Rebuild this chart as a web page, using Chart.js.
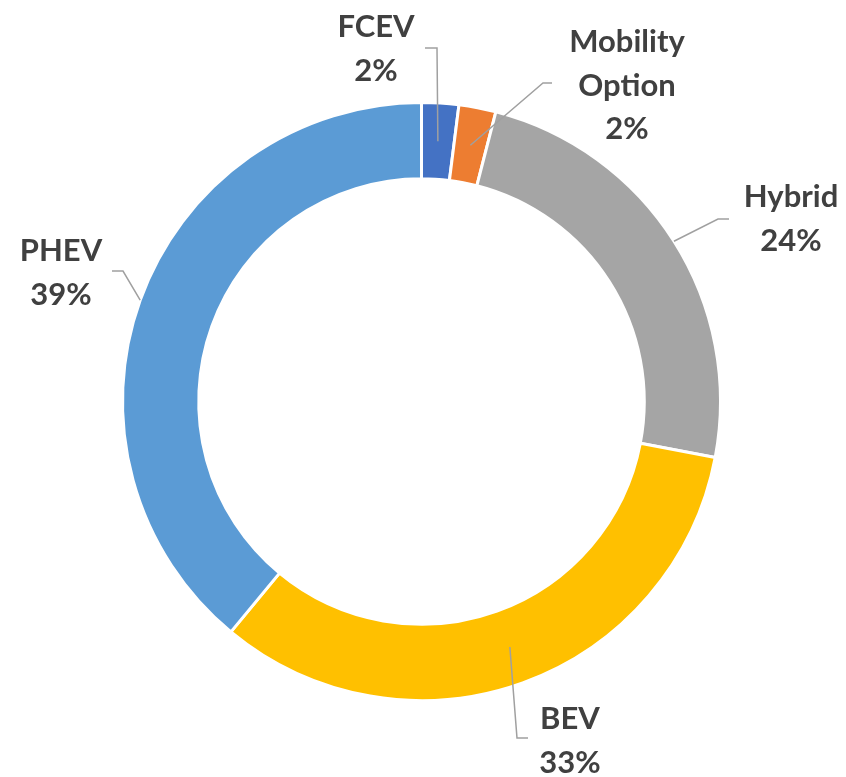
<!DOCTYPE html>
<html lang="en">
<head>
  <meta charset="UTF-8" />
  <title>Powertrain share</title>
  <script src="https://cdn.jsdelivr.net/npm/chart.js"></script>
  <style>
    html, body { margin: 0; padding: 0; background: #fff; }
    .box { width: 846px; height: 777px; position: relative; }
  </style>
</head>
<body>
  <div class="box">
    <canvas id="myChart"></canvas>
  </div>

<script>
// data ------------------------------------------------------------
var categorias = ['FCEV', 'Mobility Option', 'Hybrid', 'BEV', 'PHEV'];
var valores = [2, 2, 24, 33, 39];
var cores = ['#4472C4', '#ED7D31', '#A5A5A5', '#FFC000', '#5B9BD5'];

// label placement (text centre, leader start, elbow, anchor on ring)
var rotulos = [
  { linhas: ['FCEV'], tx: 376, ty: 27, sx: 425, sy: 48, ex: 437, ey: 48, ancora: 'meio' },
  { linhas: ['Mobility', 'Option'], tx: 627, ty: 42, sx: 552, sy: 83, ex: 543, ey: 83, ancora: 'meio' },
  { linhas: ['Hybrid'], tx: 791, ty: 197, sx: 729, sy: 219, ex: 718, ey: 219, ancora: 'fora' },
  { linhas: ['BEV'], tx: 570, ty: 719, sx: 528, sy: 738, ex: 517, ey: 738, ancora: 'meio' },
  { linhas: ['PHEV'], tx: 61, ty: 251, sx: 112, sy: 271, ex: 123, ey: 271, ancora: 'fora' }
];

var pluginRotulos = {
  id: 'rotulos',
  afterDatasetsDraw: function (chart) {
    var ctx = chart.ctx;
    var meta = chart.getDatasetMeta(0);
    var total = valores.reduce(function (a, b) { return a + b; }, 0);

    ctx.save();
    for (var i = 0; i < meta.data.length; i++) {
      var arco = meta.data[i];
      var r = rotulos[i];
      var p = arco.getProps(['x', 'y', 'startAngle', 'endAngle', 'innerRadius', 'outerRadius'], true);
      var meio = (p.startAngle + p.endAngle) / 2;
      var raio = r.ancora === 'fora' ? p.outerRadius : (p.innerRadius + p.outerRadius) / 2;
      var ax = p.x + Math.cos(meio) * raio;
      var ay = p.y + Math.sin(meio) * raio;

      // leader line
      ctx.strokeStyle = '#a0a0a0';
      ctx.lineWidth = 1.5;
      ctx.beginPath();
      ctx.moveTo(r.sx, r.sy);
      ctx.lineTo(r.ex, r.ey);
      ctx.lineTo(ax, ay);
      ctx.stroke();

      // text
      var texto = r.linhas.concat([Math.round(valores[i] / total * 100) + '%']);
      ctx.fillStyle = '#404040';
      ctx.font = 'bold 31px Lato';
      ctx.textAlign = 'center';
      ctx.textBaseline = 'middle';
      for (var k = 0; k < texto.length; k++) {
        ctx.fillText(texto[k], r.tx, r.ty + k * 43.5);
      }
    }
    ctx.restore();
  }
};

const config = {
  type: 'doughnut',
  data: {
    labels: categorias,
    datasets: [{
      data: valores,
      backgroundColor: cores,
      borderColor: '#ffffff',
      borderWidth: 3
    }]
  },
  options: {
    responsive: true,
    maintainAspectRatio: false,
    animation: false,
    cutout: '74.5%',
    layout: {
      padding: { left: 121, right: 124, top: 101, bottom: 75 }
    },
    plugins: {
      legend: { display: false },
      tooltip: { enabled: false }
    }
  },
  plugins: [pluginRotulos]
};

const myChart = new Chart(document.getElementById('myChart'), config);
</script>
</body>
</html>
